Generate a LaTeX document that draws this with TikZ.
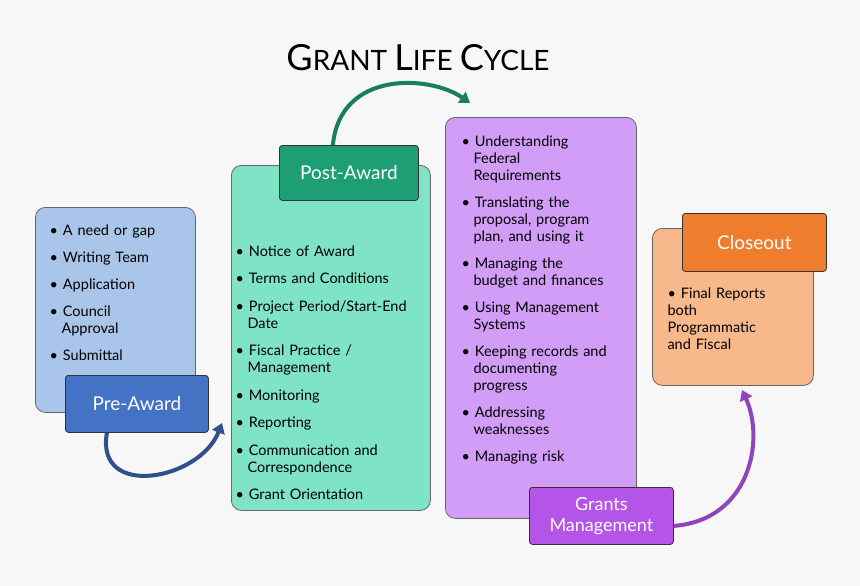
\documentclass[tikz,border=0pt]{standalone}
\usepackage{fontspec}
\setmainfont{Lato}
\usetikzlibrary{arrows.meta,positioning}
\definecolor{prelight}{HTML}{A9C6EA}
\definecolor{predark}{HTML}{4472C4}
\definecolor{postlight}{HTML}{7FE3C6}
\definecolor{postdark}{HTML}{1E9E74}
\definecolor{gmlight}{HTML}{D29DF7}
\definecolor{gmdark}{HTML}{B455E8}
\definecolor{closelight}{HTML}{F7B98B}
\definecolor{closedark}{HTML}{EF7D2E}
\definecolor{bg}{HTML}{F7F7F7}
\newcommand{\itm}[1]{\par\hangindent=12pt\hangafter=1\textbullet\hspace{5pt}#1}
\begin{document}
\begin{tikzpicture}[x=1pt,y=-1pt]
	\tikzstyle{box} = [rounded corners=10pt,draw=black!60,thick,anchor=north west]
	\tikzstyle{tag} = [rounded corners=3pt,draw=black!80,thick,text=white,font=\fontsize{19}{21}\selectfont,align=center]
	\tikzstyle{items} = [anchor=north west,font=\fontsize{14.5}{17}\selectfont\raggedright]
	\tikzstyle{flow} = [line width=4pt,-{Triangle[length=10pt,width=13pt]}]
	\fill[bg] (0,0) rectangle (860,586);
	\useasboundingbox (0,0) rectangle (860,586);
	\node (title) at (418,58) {{\fontsize{36}{40}\selectfont G}{\fontsize{28}{30}\selectfont RANT }{\fontsize{36}{40}\selectfont L}{\fontsize{28}{30}\selectfont IFE }{\fontsize{36}{40}\selectfont C}{\fontsize{28}{30}\selectfont YCLE}};
	% boxes
	\node[box,fill=prelight,minimum width=160,minimum height=205] (prebox) at (35,207) {};
	\node[box,fill=postlight,minimum width=199,minimum height=345] (postbox) at (231,165) {};
	\node[box,fill=gmlight,minimum width=191,minimum height=401] (gmbox) at (445,117) {};
	\node[box,fill=closelight,minimum width=161,minimum height=157] (closebox) at (652,228) {};
	% labels
	\node[tag,fill=predark,minimum width=143,minimum height=57,anchor=north west] (pre) at (65,375) {Pre-Award};
	\node[tag,fill=postdark,minimum width=139,minimum height=55,anchor=north west] (post) at (279,145) {Post-Award};
	\node[tag,fill=gmdark,minimum width=144,minimum height=57,anchor=north west,font=\fontsize{18}{21}\selectfont] (gm) at (529,487) {Grants\\Management};
	\node[tag,fill=closedark,minimum width=144,minimum height=58,anchor=north west] (close) at (682,213) {Closeout};
	% lists
	\node[items,text width=130] (prelist) at (46,205) {\setlength{\parskip}{10pt}%
		\itm{A need or gap}\itm{Writing Team}\itm{Application}\itm{Council\newline Approval}\itm{Submittal}};
	\node[items,text width=200] (postlist) at (232,225) {\setlength{\parskip}{10.5pt}%
		\itm{Notice of Award}\itm{Terms and Conditions}\itm{Project Period/Start-End\newline Date}\itm{Fiscal Practice /\newline Management}\itm{Monitoring}\itm{Reporting}\itm{Communication and\newline Correspondence}\itm{Grant Orientation}};
	\node[items,text width=170] (gmlist) at (458,116) {\setlength{\parskip}{10pt}%
		\itm{Understanding\newline Federal\newline Requirements}\itm{Translating the\newline proposal, program\newline plan, and using it}\itm{Managing the\newline budget and finances}\itm{Using Management\newline Systems}\itm{Keeping records and\newline documenting\newline progress}\itm{Addressing\newline weaknesses}\itm{Managing risk}};
	\node[items,text width=140] (closelist) at (664,278) {\itm{Final Reports\newline both\newline Programmatic\newline and Fiscal}};
	% arrows
	\coordinate (preend) at (222,423);
	\coordinate (postend) at (470,103);
	\coordinate (gmend) at (742,390);
	\draw[flow,color=predark!70!black] ([xshift=-30pt]pre.south) .. controls (95,500) and (200,480) .. (preend);
	\draw[flow,color=postdark!80!black] ([xshift=-16pt]post.north) .. controls (340,70) and (430,75) .. (postend);
	\draw[flow,color=gmdark!80!black] ([yshift=-10pt]gm.east) .. controls (750,520) and (765,440) .. (gmend);
\end{tikzpicture}
\end{document}
